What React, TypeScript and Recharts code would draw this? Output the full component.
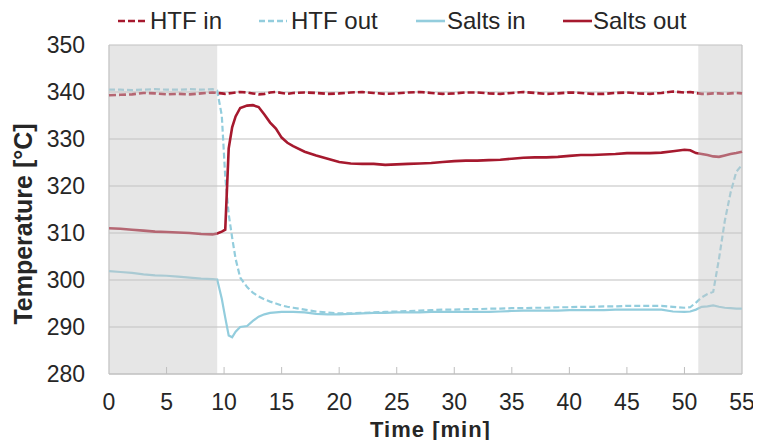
import React from 'react';
import { LineChart, Line, XAxis, YAxis, CartesianGrid, ReferenceArea, ReferenceLine, Label } from 'recharts';

const times = [0, 1, 2, 3, 4, 5, 6, 7, 8, 9, 9.4, 9.8, 10.1, 10.4, 10.7, 11, 11.4, 12, 12.5, 13, 13.5, 14, 14.5, 15, 15.5, 16,
  17, 18, 19, 20, 21, 22, 23, 24, 25, 26, 27, 28, 29, 30, 31, 32, 33, 34, 35, 36, 37, 38, 39, 40, 41, 42, 43, 44, 45, 46, 47, 48, 49, 50,
  50.5, 51, 51.5, 52, 52.5, 53, 53.5, 54, 54.5, 55];

const htfIn = [339.3, 339.4, 339.5, 339.8, 339.7, 339.5, 339.6, 339.5, 339.7, 339.9,
  339.8, 339.7, 339.6, 339.7, 339.8, 339.9, 340.0,
  339.9, 339.7, 339.5, 339.6, 339.9, 340.0, 339.8, 339.6, 339.8,
  339.9, 339.8, 339.6, 339.7, 339.9, 340.0, 339.8, 339.6, 339.7, 339.9, 340.0, 339.8, 339.6, 339.7, 339.9, 339.9, 339.7,
  339.6, 339.8, 340.0, 339.8, 339.6, 339.7, 339.9, 339.8, 339.6, 339.6, 339.8, 339.9, 339.7, 339.6, 339.8, 340.1, 339.9,
  340.0, 339.8, 339.6, 339.6, 339.7, 339.7, 339.6, 339.7, 339.8, 339.7];

const htfOut = [340.5, 340.5, 340.4, 340.5, 340.6, 340.5, 340.5, 340.6, 340.5, 340.6,
  340.3, 335.0, 322.0, 314.0, 309.0, 304.5, 300.5,
  298.5, 297.3, 296.5, 295.9, 295.4, 295.0, 294.6, 294.3, 294.1,
  293.7, 293.3, 293.1, 292.9, 292.9, 293.0, 293.1, 293.2, 293.3, 293.4, 293.5, 293.6, 293.7, 293.7, 293.8, 293.8, 293.9,
  293.9, 294.0, 294.0, 294.1, 294.1, 294.2, 294.2, 294.3, 294.3, 294.4, 294.4, 294.5, 294.5, 294.5, 294.5, 294.3, 294.1,
  294.2, 295.2, 296.3, 297.0, 297.5, 304.5, 312.5, 318.5, 323.0, 324.5];

const saltsIn = [301.9, 301.7, 301.5, 301.2, 301.0, 300.9, 300.7, 300.5, 300.3, 300.2,
  300.1, 296.0, 292.0, 288.2, 287.8, 289.0, 290.0,
  290.2, 291.3, 292.2, 292.7, 293.0, 293.1, 293.2, 293.2, 293.2,
  293.1, 292.8, 292.7, 292.7, 292.8, 292.9, 293.0, 293.0, 293.1, 293.1, 293.1, 293.2, 293.2, 293.2, 293.2, 293.2, 293.2,
  293.3, 293.4, 293.5, 293.5, 293.5, 293.5, 293.6, 293.6, 293.6, 293.6, 293.7, 293.7, 293.7, 293.7, 293.7, 293.3, 293.2,
  293.3, 293.7, 294.3, 294.4, 294.6, 294.3, 294.1, 294.0, 293.9, 293.9];

const saltsOut = [311.0, 310.9, 310.7, 310.5, 310.3, 310.2, 310.1, 310.0, 309.8, 309.7,
  309.9, 310.3, 310.7, 328.0, 332.5, 334.8, 336.6,
  337.1, 337.2, 336.8, 335.2, 333.5, 332.2, 330.3, 329.2, 328.5,
  327.3, 326.5, 325.8, 325.1, 324.8, 324.7, 324.7, 324.5, 324.6, 324.7, 324.8, 324.9, 325.1, 325.3, 325.4, 325.4, 325.5,
  325.6, 325.8, 326.0, 326.1, 326.1, 326.2, 326.4, 326.6, 326.6, 326.7, 326.8, 327.0, 327.0, 327.0, 327.1, 327.4, 327.7,
  327.6, 327.0, 326.8, 326.6, 326.3, 326.2, 326.5, 326.8, 327.0, 327.3];

const xTicks = [0, 5, 10, 15, 20, 25, 30, 35, 40, 45, 50, 55];
const yTicks = [280, 290, 300, 310, 320, 330, 340, 350];
const shadedLeft = [0, 9.4];
const shadedRight = [51.2, 55];

const seriesNames = ['HTF in', 'HTF out', 'Salts in', 'Salts out'];

const data = times.map((t, i) => ({
  t,
  htfIn: htfIn[i],
  htfOut: htfOut[i],
  saltsIn: saltsIn[i],
  saltsOut: saltsOut[i],
}));

const RED = '#a6192e';
const BLUE = '#93cddd';
const GRID = '#bfbfbf';
const FONT = '"Liberation Sans", Arial, sans-serif';
const TEXT = '#262626';
const X_TICK_GAP = 20;

const XTick = (props: any) => {
  const { x, y, payload } = props;
  const axisY = y - X_TICK_GAP;
  return (
    <g>
      {payload.value !== 0 && payload.value !== 55 && (
        <line x1={x} x2={x} y1={axisY} y2={axisY - 7} stroke={GRID} strokeWidth={1} />
      )}
      <text x={x} y={y} dy="0.71em" textAnchor="middle" fontSize={23} fontFamily={FONT} fill={TEXT}>
        {payload.value}
      </text>
    </g>
  );
};

const legendItems = [
  { name: seriesNames[0], color: RED, dash: '7 3', x1: 118, x2: 146, tx: 150 },
  { name: seriesNames[1], color: BLUE, dash: '6 3', x1: 259, x2: 287, tx: 291 },
  { name: seriesNames[2], color: BLUE, dash: undefined, x1: 416, x2: 445, tx: 447 },
  { name: seriesNames[3], color: RED, dash: undefined, x1: 563, x2: 592, tx: 593 },
];

export default function App() {
  return (
    <div style={{ margin: -8, position: 'relative', width: 761, height: 448, background: '#fff' }}>
      <LineChart width={761} height={448} data={data} margin={{ top: 45, right: 19, left: 0, bottom: 0 }}>
        <CartesianGrid vertical={false} stroke={GRID} strokeWidth={1.2} />
        <XAxis
          dataKey="t"
          type="number"
          domain={[0, 55]}
          ticks={xTicks}
          interval={0}
          height={74}
          axisLine={{ stroke: GRID, strokeWidth: 1.2 }}
          tickLine={false}
          tickSize={0}
          tickMargin={X_TICK_GAP}
          tick={<XTick />}
        >
          <Label
            content={(p: any) => {
              const vb = p.viewBox;
              return (
                <text x={vb.x + vb.width / 2 + 5} y={437} textAnchor="middle" fontSize={22} fontWeight="bold" letterSpacing={1} fontFamily={FONT} fill={TEXT}>
                  Time [min]
                </text>
              );
            }}
          />
        </XAxis>
        <YAxis
          type="number"
          domain={[280, 350]}
          ticks={yTicks}
          interval={0}
          width={109}
          axisLine={false}
          tickLine={false}
          tickSize={0}
          tickMargin={24}
          tick={{ fontSize: 23, fontFamily: FONT, fill: TEXT }}
        >
          <Label
            content={() => (
              <text x={32} y={224} transform="rotate(-90 32 224)" textAnchor="middle" fontSize={25} fontWeight="bold" fontFamily={FONT} fill={TEXT}>
                Temperature [°C]
              </text>
            )}
          />
        </YAxis>
        <ReferenceLine x={0} stroke={GRID} strokeWidth={1.2} />
        <ReferenceLine x={55} stroke={GRID} strokeWidth={1.2} />
        <Line dataKey="saltsIn" name={seriesNames[2]} stroke={BLUE} strokeWidth={2.2} dot={false} isAnimationActive={false} />
        <Line dataKey="htfOut" name={seriesNames[1]} stroke={BLUE} strokeWidth={2.2} strokeDasharray="6 3" dot={false} isAnimationActive={false} />
        <Line dataKey="saltsOut" name={seriesNames[3]} stroke={RED} strokeWidth={2.6} dot={false} isAnimationActive={false} />
        <Line dataKey="htfIn" name={seriesNames[0]} stroke={RED} strokeWidth={2.6} strokeDasharray="7 3" dot={false} isAnimationActive={false} />
        <ReferenceArea x1={shadedLeft[0]} x2={shadedLeft[1]} y1={280} y2={350} fill="#c8c8c8" fillOpacity={0.45} stroke="none" zIndex={450} />
        <ReferenceArea x1={shadedRight[0]} x2={shadedRight[1]} y1={280} y2={350} fill="#c8c8c8" fillOpacity={0.45} stroke="none" zIndex={450} />
      </LineChart>
      <svg width={761} height={40} style={{ position: 'absolute', left: 0, top: 0 }}>
        {legendItems.map((it) => (
          <g key={it.name}>
            <line x1={it.x1} x2={it.x2} y1={21} y2={21} stroke={it.color} strokeWidth={2.6} strokeDasharray={it.dash} />
            <text x={it.tx} y={28.5} fontSize={24} fontFamily={FONT} fill={TEXT}>{it.name}</text>
          </g>
        ))}
      </svg>
    </div>
  );
}
